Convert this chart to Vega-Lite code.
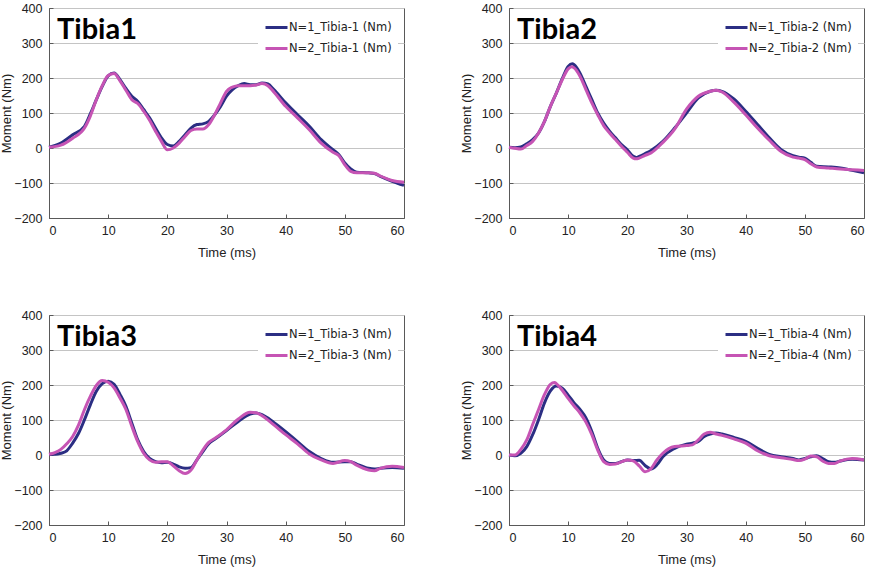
{
  "$schema": "https://vega.github.io/schema/vega-lite/v6.json",
  "padding": {"left": 0, "top": 1, "right": 0, "bottom": 0},
  "background": "white",
  "columns": 2,
  "spacing": {"row": 48, "column": 49},
  "datasets": {
    "p1": [
      {"t":0,"m":2,"s":"N=1_Tibia-1 (Nm)"},{"t":2,"m":14,"s":"N=1_Tibia-1 (Nm)"},{"t":4,"m":38,"s":"N=1_Tibia-1 (Nm)"},{"t":6,"m":62,"s":"N=1_Tibia-1 (Nm)"},{"t":7,"m":98,"s":"N=1_Tibia-1 (Nm)"},{"t":8,"m":138,"s":"N=1_Tibia-1 (Nm)"},{"t":9,"m":176,"s":"N=1_Tibia-1 (Nm)"},{"t":10,"m":206,"s":"N=1_Tibia-1 (Nm)"},{"t":11,"m":214,"s":"N=1_Tibia-1 (Nm)"},{"t":12,"m":195,"s":"N=1_Tibia-1 (Nm)"},{"t":13,"m":170,"s":"N=1_Tibia-1 (Nm)"},{"t":14,"m":148,"s":"N=1_Tibia-1 (Nm)"},{"t":15,"m":133,"s":"N=1_Tibia-1 (Nm)"},{"t":16,"m":110,"s":"N=1_Tibia-1 (Nm)"},{"t":17,"m":86,"s":"N=1_Tibia-1 (Nm)"},{"t":18,"m":57,"s":"N=1_Tibia-1 (Nm)"},{"t":19,"m":29,"s":"N=1_Tibia-1 (Nm)"},{"t":20,"m":10,"s":"N=1_Tibia-1 (Nm)"},{"t":21,"m":6,"s":"N=1_Tibia-1 (Nm)"},{"t":22,"m":19,"s":"N=1_Tibia-1 (Nm)"},{"t":23,"m":38,"s":"N=1_Tibia-1 (Nm)"},{"t":24,"m":57,"s":"N=1_Tibia-1 (Nm)"},{"t":25,"m":67,"s":"N=1_Tibia-1 (Nm)"},{"t":26,"m":69,"s":"N=1_Tibia-1 (Nm)"},{"t":27,"m":76,"s":"N=1_Tibia-1 (Nm)"},{"t":28,"m":95,"s":"N=1_Tibia-1 (Nm)"},{"t":29,"m":119,"s":"N=1_Tibia-1 (Nm)"},{"t":30,"m":148,"s":"N=1_Tibia-1 (Nm)"},{"t":31,"m":167,"s":"N=1_Tibia-1 (Nm)"},{"t":32,"m":178,"s":"N=1_Tibia-1 (Nm)"},{"t":33,"m":184,"s":"N=1_Tibia-1 (Nm)"},{"t":34,"m":181,"s":"N=1_Tibia-1 (Nm)"},{"t":35,"m":181,"s":"N=1_Tibia-1 (Nm)"},{"t":36,"m":186,"s":"N=1_Tibia-1 (Nm)"},{"t":37,"m":183,"s":"N=1_Tibia-1 (Nm)"},{"t":38,"m":167,"s":"N=1_Tibia-1 (Nm)"},{"t":40,"m":129,"s":"N=1_Tibia-1 (Nm)"},{"t":42,"m":95,"s":"N=1_Tibia-1 (Nm)"},{"t":44,"m":62,"s":"N=1_Tibia-1 (Nm)"},{"t":46,"m":24,"s":"N=1_Tibia-1 (Nm)"},{"t":48,"m":-5,"s":"N=1_Tibia-1 (Nm)"},{"t":49,"m":-19,"s":"N=1_Tibia-1 (Nm)"},{"t":50,"m":-43,"s":"N=1_Tibia-1 (Nm)"},{"t":51,"m":-60,"s":"N=1_Tibia-1 (Nm)"},{"t":52,"m":-69,"s":"N=1_Tibia-1 (Nm)"},{"t":54,"m":-71,"s":"N=1_Tibia-1 (Nm)"},{"t":55,"m":-73,"s":"N=1_Tibia-1 (Nm)"},{"t":56,"m":-81,"s":"N=1_Tibia-1 (Nm)"},{"t":58,"m":-95,"s":"N=1_Tibia-1 (Nm)"},{"t":60,"m":-107,"s":"N=1_Tibia-1 (Nm)"},
      {"t":0,"m":2,"s":"N=2_Tibia-1 (Nm)"},{"t":2,"m":8,"s":"N=2_Tibia-1 (Nm)"},{"t":4,"m":28,"s":"N=2_Tibia-1 (Nm)"},{"t":6,"m":57,"s":"N=2_Tibia-1 (Nm)"},{"t":7,"m":92,"s":"N=2_Tibia-1 (Nm)"},{"t":8,"m":138,"s":"N=2_Tibia-1 (Nm)"},{"t":9,"m":178,"s":"N=2_Tibia-1 (Nm)"},{"t":10,"m":207,"s":"N=2_Tibia-1 (Nm)"},{"t":11,"m":213,"s":"N=2_Tibia-1 (Nm)"},{"t":12,"m":192,"s":"N=2_Tibia-1 (Nm)"},{"t":13,"m":165,"s":"N=2_Tibia-1 (Nm)"},{"t":14,"m":138,"s":"N=2_Tibia-1 (Nm)"},{"t":15,"m":127,"s":"N=2_Tibia-1 (Nm)"},{"t":16,"m":105,"s":"N=2_Tibia-1 (Nm)"},{"t":17,"m":79,"s":"N=2_Tibia-1 (Nm)"},{"t":18,"m":48,"s":"N=2_Tibia-1 (Nm)"},{"t":19,"m":19,"s":"N=2_Tibia-1 (Nm)"},{"t":20,"m":-5,"s":"N=2_Tibia-1 (Nm)"},{"t":21,"m":0,"s":"N=2_Tibia-1 (Nm)"},{"t":22,"m":14,"s":"N=2_Tibia-1 (Nm)"},{"t":23,"m":33,"s":"N=2_Tibia-1 (Nm)"},{"t":24,"m":50,"s":"N=2_Tibia-1 (Nm)"},{"t":25,"m":54,"s":"N=2_Tibia-1 (Nm)"},{"t":26,"m":54,"s":"N=2_Tibia-1 (Nm)"},{"t":27,"m":67,"s":"N=2_Tibia-1 (Nm)"},{"t":28,"m":95,"s":"N=2_Tibia-1 (Nm)"},{"t":29,"m":129,"s":"N=2_Tibia-1 (Nm)"},{"t":30,"m":162,"s":"N=2_Tibia-1 (Nm)"},{"t":31,"m":174,"s":"N=2_Tibia-1 (Nm)"},{"t":32,"m":178,"s":"N=2_Tibia-1 (Nm)"},{"t":33,"m":178,"s":"N=2_Tibia-1 (Nm)"},{"t":34,"m":178,"s":"N=2_Tibia-1 (Nm)"},{"t":35,"m":180,"s":"N=2_Tibia-1 (Nm)"},{"t":36,"m":184,"s":"N=2_Tibia-1 (Nm)"},{"t":37,"m":178,"s":"N=2_Tibia-1 (Nm)"},{"t":38,"m":160,"s":"N=2_Tibia-1 (Nm)"},{"t":40,"m":119,"s":"N=2_Tibia-1 (Nm)"},{"t":42,"m":86,"s":"N=2_Tibia-1 (Nm)"},{"t":44,"m":52,"s":"N=2_Tibia-1 (Nm)"},{"t":46,"m":14,"s":"N=2_Tibia-1 (Nm)"},{"t":48,"m":-12,"s":"N=2_Tibia-1 (Nm)"},{"t":49,"m":-22,"s":"N=2_Tibia-1 (Nm)"},{"t":50,"m":-48,"s":"N=2_Tibia-1 (Nm)"},{"t":51,"m":-67,"s":"N=2_Tibia-1 (Nm)"},{"t":52,"m":-71,"s":"N=2_Tibia-1 (Nm)"},{"t":54,"m":-71,"s":"N=2_Tibia-1 (Nm)"},{"t":55,"m":-72,"s":"N=2_Tibia-1 (Nm)"},{"t":56,"m":-80,"s":"N=2_Tibia-1 (Nm)"},{"t":58,"m":-93,"s":"N=2_Tibia-1 (Nm)"},{"t":60,"m":-98,"s":"N=2_Tibia-1 (Nm)"}
    ],
    "p2": [
      {"t":0,"m":2,"s":"N=1_Tibia-2 (Nm)"},{"t":1,"m":1,"s":"N=1_Tibia-2 (Nm)"},{"t":2,"m":3,"s":"N=1_Tibia-2 (Nm)"},{"t":3,"m":12,"s":"N=1_Tibia-2 (Nm)"},{"t":4,"m":24,"s":"N=1_Tibia-2 (Nm)"},{"t":5,"m":43,"s":"N=1_Tibia-2 (Nm)"},{"t":6,"m":76,"s":"N=1_Tibia-2 (Nm)"},{"t":7,"m":119,"s":"N=1_Tibia-2 (Nm)"},{"t":8,"m":157,"s":"N=1_Tibia-2 (Nm)"},{"t":9,"m":198,"s":"N=1_Tibia-2 (Nm)"},{"t":10,"m":233,"s":"N=1_Tibia-2 (Nm)"},{"t":10.7,"m":241,"s":"N=1_Tibia-2 (Nm)"},{"t":11,"m":238,"s":"N=1_Tibia-2 (Nm)"},{"t":12,"m":214,"s":"N=1_Tibia-2 (Nm)"},{"t":13,"m":176,"s":"N=1_Tibia-2 (Nm)"},{"t":14,"m":138,"s":"N=1_Tibia-2 (Nm)"},{"t":15,"m":100,"s":"N=1_Tibia-2 (Nm)"},{"t":16,"m":71,"s":"N=1_Tibia-2 (Nm)"},{"t":17,"m":48,"s":"N=1_Tibia-2 (Nm)"},{"t":18,"m":29,"s":"N=1_Tibia-2 (Nm)"},{"t":19,"m":10,"s":"N=1_Tibia-2 (Nm)"},{"t":20,"m":-5,"s":"N=1_Tibia-2 (Nm)"},{"t":21,"m":-24,"s":"N=1_Tibia-2 (Nm)"},{"t":21.5,"m":-27,"s":"N=1_Tibia-2 (Nm)"},{"t":22,"m":-24,"s":"N=1_Tibia-2 (Nm)"},{"t":23,"m":-16,"s":"N=1_Tibia-2 (Nm)"},{"t":24,"m":-7,"s":"N=1_Tibia-2 (Nm)"},{"t":26,"m":19,"s":"N=1_Tibia-2 (Nm)"},{"t":28,"m":57,"s":"N=1_Tibia-2 (Nm)"},{"t":30,"m":100,"s":"N=1_Tibia-2 (Nm)"},{"t":32,"m":143,"s":"N=1_Tibia-2 (Nm)"},{"t":34,"m":162,"s":"N=1_Tibia-2 (Nm)"},{"t":35,"m":165,"s":"N=1_Tibia-2 (Nm)"},{"t":36,"m":162,"s":"N=1_Tibia-2 (Nm)"},{"t":38,"m":140,"s":"N=1_Tibia-2 (Nm)"},{"t":40,"m":105,"s":"N=1_Tibia-2 (Nm)"},{"t":42,"m":67,"s":"N=1_Tibia-2 (Nm)"},{"t":44,"m":29,"s":"N=1_Tibia-2 (Nm)"},{"t":46,"m":-5,"s":"N=1_Tibia-2 (Nm)"},{"t":48,"m":-22,"s":"N=1_Tibia-2 (Nm)"},{"t":49,"m":-26,"s":"N=1_Tibia-2 (Nm)"},{"t":50,"m":-29,"s":"N=1_Tibia-2 (Nm)"},{"t":51,"m":-41,"s":"N=1_Tibia-2 (Nm)"},{"t":52,"m":-52,"s":"N=1_Tibia-2 (Nm)"},{"t":54,"m":-54,"s":"N=1_Tibia-2 (Nm)"},{"t":56,"m":-57,"s":"N=1_Tibia-2 (Nm)"},{"t":58,"m":-64,"s":"N=1_Tibia-2 (Nm)"},{"t":60,"m":-71,"s":"N=1_Tibia-2 (Nm)"},
      {"t":0,"m":2,"s":"N=2_Tibia-2 (Nm)"},{"t":1,"m":-1,"s":"N=2_Tibia-2 (Nm)"},{"t":2,"m":-3,"s":"N=2_Tibia-2 (Nm)"},{"t":3,"m":7,"s":"N=2_Tibia-2 (Nm)"},{"t":4,"m":19,"s":"N=2_Tibia-2 (Nm)"},{"t":5,"m":43,"s":"N=2_Tibia-2 (Nm)"},{"t":6,"m":76,"s":"N=2_Tibia-2 (Nm)"},{"t":7,"m":119,"s":"N=2_Tibia-2 (Nm)"},{"t":8,"m":157,"s":"N=2_Tibia-2 (Nm)"},{"t":9,"m":195,"s":"N=2_Tibia-2 (Nm)"},{"t":10,"m":226,"s":"N=2_Tibia-2 (Nm)"},{"t":10.6,"m":232,"s":"N=2_Tibia-2 (Nm)"},{"t":11,"m":229,"s":"N=2_Tibia-2 (Nm)"},{"t":12,"m":205,"s":"N=2_Tibia-2 (Nm)"},{"t":13,"m":167,"s":"N=2_Tibia-2 (Nm)"},{"t":14,"m":129,"s":"N=2_Tibia-2 (Nm)"},{"t":15,"m":95,"s":"N=2_Tibia-2 (Nm)"},{"t":16,"m":64,"s":"N=2_Tibia-2 (Nm)"},{"t":17,"m":43,"s":"N=2_Tibia-2 (Nm)"},{"t":18,"m":24,"s":"N=2_Tibia-2 (Nm)"},{"t":19,"m":5,"s":"N=2_Tibia-2 (Nm)"},{"t":20,"m":-12,"s":"N=2_Tibia-2 (Nm)"},{"t":21,"m":-29,"s":"N=2_Tibia-2 (Nm)"},{"t":21.5,"m":-31,"s":"N=2_Tibia-2 (Nm)"},{"t":22,"m":-29,"s":"N=2_Tibia-2 (Nm)"},{"t":23,"m":-21,"s":"N=2_Tibia-2 (Nm)"},{"t":24,"m":-14,"s":"N=2_Tibia-2 (Nm)"},{"t":26,"m":16,"s":"N=2_Tibia-2 (Nm)"},{"t":28,"m":54,"s":"N=2_Tibia-2 (Nm)"},{"t":30,"m":111,"s":"N=2_Tibia-2 (Nm)"},{"t":32,"m":148,"s":"N=2_Tibia-2 (Nm)"},{"t":34,"m":162,"s":"N=2_Tibia-2 (Nm)"},{"t":35,"m":165,"s":"N=2_Tibia-2 (Nm)"},{"t":36,"m":160,"s":"N=2_Tibia-2 (Nm)"},{"t":38,"m":131,"s":"N=2_Tibia-2 (Nm)"},{"t":40,"m":95,"s":"N=2_Tibia-2 (Nm)"},{"t":42,"m":57,"s":"N=2_Tibia-2 (Nm)"},{"t":44,"m":22,"s":"N=2_Tibia-2 (Nm)"},{"t":46,"m":-10,"s":"N=2_Tibia-2 (Nm)"},{"t":48,"m":-26,"s":"N=2_Tibia-2 (Nm)"},{"t":49,"m":-29,"s":"N=2_Tibia-2 (Nm)"},{"t":50,"m":-33,"s":"N=2_Tibia-2 (Nm)"},{"t":51,"m":-45,"s":"N=2_Tibia-2 (Nm)"},{"t":52,"m":-54,"s":"N=2_Tibia-2 (Nm)"},{"t":54,"m":-57,"s":"N=2_Tibia-2 (Nm)"},{"t":56,"m":-60,"s":"N=2_Tibia-2 (Nm)"},{"t":58,"m":-62,"s":"N=2_Tibia-2 (Nm)"},{"t":60,"m":-64,"s":"N=2_Tibia-2 (Nm)"}
    ],
    "p3": [
      {"t":0,"m":2,"s":"N=1_Tibia-3 (Nm)"},{"t":1,"m":2,"s":"N=1_Tibia-3 (Nm)"},{"t":2,"m":5,"s":"N=1_Tibia-3 (Nm)"},{"t":3,"m":12,"s":"N=1_Tibia-3 (Nm)"},{"t":4,"m":34,"s":"N=1_Tibia-3 (Nm)"},{"t":5,"m":62,"s":"N=1_Tibia-3 (Nm)"},{"t":6,"m":101,"s":"N=1_Tibia-3 (Nm)"},{"t":7,"m":144,"s":"N=1_Tibia-3 (Nm)"},{"t":8,"m":182,"s":"N=1_Tibia-3 (Nm)"},{"t":9,"m":204,"s":"N=1_Tibia-3 (Nm)"},{"t":10,"m":211,"s":"N=1_Tibia-3 (Nm)"},{"t":11,"m":202,"s":"N=1_Tibia-3 (Nm)"},{"t":12,"m":173,"s":"N=1_Tibia-3 (Nm)"},{"t":13,"m":139,"s":"N=1_Tibia-3 (Nm)"},{"t":14,"m":91,"s":"N=1_Tibia-3 (Nm)"},{"t":15,"m":43,"s":"N=1_Tibia-3 (Nm)"},{"t":16,"m":10,"s":"N=1_Tibia-3 (Nm)"},{"t":17,"m":-10,"s":"N=1_Tibia-3 (Nm)"},{"t":18,"m":-19,"s":"N=1_Tibia-3 (Nm)"},{"t":19,"m":-22,"s":"N=1_Tibia-3 (Nm)"},{"t":20,"m":-21,"s":"N=1_Tibia-3 (Nm)"},{"t":21,"m":-26,"s":"N=1_Tibia-3 (Nm)"},{"t":22,"m":-34,"s":"N=1_Tibia-3 (Nm)"},{"t":23,"m":-38,"s":"N=1_Tibia-3 (Nm)"},{"t":24,"m":-36,"s":"N=1_Tibia-3 (Nm)"},{"t":25,"m":-14,"s":"N=1_Tibia-3 (Nm)"},{"t":26,"m":10,"s":"N=1_Tibia-3 (Nm)"},{"t":27,"m":32,"s":"N=1_Tibia-3 (Nm)"},{"t":28,"m":45,"s":"N=1_Tibia-3 (Nm)"},{"t":30,"m":70,"s":"N=1_Tibia-3 (Nm)"},{"t":32,"m":96,"s":"N=1_Tibia-3 (Nm)"},{"t":34,"m":117,"s":"N=1_Tibia-3 (Nm)"},{"t":35,"m":120,"s":"N=1_Tibia-3 (Nm)"},{"t":36,"m":115,"s":"N=1_Tibia-3 (Nm)"},{"t":38,"m":93,"s":"N=1_Tibia-3 (Nm)"},{"t":40,"m":67,"s":"N=1_Tibia-3 (Nm)"},{"t":42,"m":38,"s":"N=1_Tibia-3 (Nm)"},{"t":44,"m":10,"s":"N=1_Tibia-3 (Nm)"},{"t":46,"m":-10,"s":"N=1_Tibia-3 (Nm)"},{"t":48,"m":-21,"s":"N=1_Tibia-3 (Nm)"},{"t":50,"m":-19,"s":"N=1_Tibia-3 (Nm)"},{"t":51,"m":-19,"s":"N=1_Tibia-3 (Nm)"},{"t":52,"m":-26,"s":"N=1_Tibia-3 (Nm)"},{"t":54,"m":-38,"s":"N=1_Tibia-3 (Nm)"},{"t":55,"m":-40,"s":"N=1_Tibia-3 (Nm)"},{"t":56,"m":-38,"s":"N=1_Tibia-3 (Nm)"},{"t":58,"m":-36,"s":"N=1_Tibia-3 (Nm)"},{"t":60,"m":-38,"s":"N=1_Tibia-3 (Nm)"},
      {"t":0,"m":2,"s":"N=2_Tibia-3 (Nm)"},{"t":1,"m":7,"s":"N=2_Tibia-3 (Nm)"},{"t":2,"m":16,"s":"N=2_Tibia-3 (Nm)"},{"t":3,"m":32,"s":"N=2_Tibia-3 (Nm)"},{"t":4,"m":53,"s":"N=2_Tibia-3 (Nm)"},{"t":5,"m":86,"s":"N=2_Tibia-3 (Nm)"},{"t":6,"m":130,"s":"N=2_Tibia-3 (Nm)"},{"t":7,"m":168,"s":"N=2_Tibia-3 (Nm)"},{"t":8,"m":199,"s":"N=2_Tibia-3 (Nm)"},{"t":9,"m":213,"s":"N=2_Tibia-3 (Nm)"},{"t":10,"m":208,"s":"N=2_Tibia-3 (Nm)"},{"t":11,"m":192,"s":"N=2_Tibia-3 (Nm)"},{"t":12,"m":163,"s":"N=2_Tibia-3 (Nm)"},{"t":13,"m":130,"s":"N=2_Tibia-3 (Nm)"},{"t":14,"m":82,"s":"N=2_Tibia-3 (Nm)"},{"t":15,"m":38,"s":"N=2_Tibia-3 (Nm)"},{"t":16,"m":5,"s":"N=2_Tibia-3 (Nm)"},{"t":17,"m":-14,"s":"N=2_Tibia-3 (Nm)"},{"t":18,"m":-21,"s":"N=2_Tibia-3 (Nm)"},{"t":19,"m":-19,"s":"N=2_Tibia-3 (Nm)"},{"t":20,"m":-19,"s":"N=2_Tibia-3 (Nm)"},{"t":21,"m":-31,"s":"N=2_Tibia-3 (Nm)"},{"t":22,"m":-45,"s":"N=2_Tibia-3 (Nm)"},{"t":23,"m":-53,"s":"N=2_Tibia-3 (Nm)"},{"t":24,"m":-43,"s":"N=2_Tibia-3 (Nm)"},{"t":25,"m":-14,"s":"N=2_Tibia-3 (Nm)"},{"t":26,"m":14,"s":"N=2_Tibia-3 (Nm)"},{"t":27,"m":36,"s":"N=2_Tibia-3 (Nm)"},{"t":28,"m":47,"s":"N=2_Tibia-3 (Nm)"},{"t":30,"m":72,"s":"N=2_Tibia-3 (Nm)"},{"t":32,"m":103,"s":"N=2_Tibia-3 (Nm)"},{"t":34,"m":122,"s":"N=2_Tibia-3 (Nm)"},{"t":35,"m":121,"s":"N=2_Tibia-3 (Nm)"},{"t":36,"m":112,"s":"N=2_Tibia-3 (Nm)"},{"t":38,"m":86,"s":"N=2_Tibia-3 (Nm)"},{"t":40,"m":58,"s":"N=2_Tibia-3 (Nm)"},{"t":42,"m":32,"s":"N=2_Tibia-3 (Nm)"},{"t":44,"m":3,"s":"N=2_Tibia-3 (Nm)"},{"t":46,"m":-14,"s":"N=2_Tibia-3 (Nm)"},{"t":48,"m":-24,"s":"N=2_Tibia-3 (Nm)"},{"t":50,"m":-16,"s":"N=2_Tibia-3 (Nm)"},{"t":51,"m":-19,"s":"N=2_Tibia-3 (Nm)"},{"t":52,"m":-29,"s":"N=2_Tibia-3 (Nm)"},{"t":54,"m":-43,"s":"N=2_Tibia-3 (Nm)"},{"t":55,"m":-45,"s":"N=2_Tibia-3 (Nm)"},{"t":56,"m":-38,"s":"N=2_Tibia-3 (Nm)"},{"t":58,"m":-32,"s":"N=2_Tibia-3 (Nm)"},{"t":60,"m":-36,"s":"N=2_Tibia-3 (Nm)"}
    ],
    "p4": [
      {"t":0,"m":0,"s":"N=1_Tibia-4 (Nm)"},{"t":1,"m":-2,"s":"N=1_Tibia-4 (Nm)"},{"t":2,"m":5,"s":"N=1_Tibia-4 (Nm)"},{"t":3,"m":24,"s":"N=1_Tibia-4 (Nm)"},{"t":4,"m":58,"s":"N=1_Tibia-4 (Nm)"},{"t":5,"m":101,"s":"N=1_Tibia-4 (Nm)"},{"t":6,"m":149,"s":"N=1_Tibia-4 (Nm)"},{"t":7,"m":183,"s":"N=1_Tibia-4 (Nm)"},{"t":8,"m":197,"s":"N=1_Tibia-4 (Nm)"},{"t":9,"m":191,"s":"N=1_Tibia-4 (Nm)"},{"t":10,"m":171,"s":"N=1_Tibia-4 (Nm)"},{"t":11,"m":149,"s":"N=1_Tibia-4 (Nm)"},{"t":12,"m":130,"s":"N=1_Tibia-4 (Nm)"},{"t":13,"m":106,"s":"N=1_Tibia-4 (Nm)"},{"t":14,"m":67,"s":"N=1_Tibia-4 (Nm)"},{"t":15,"m":19,"s":"N=1_Tibia-4 (Nm)"},{"t":16,"m":-14,"s":"N=1_Tibia-4 (Nm)"},{"t":17,"m":-24,"s":"N=1_Tibia-4 (Nm)"},{"t":18,"m":-24,"s":"N=1_Tibia-4 (Nm)"},{"t":20,"m":-14,"s":"N=1_Tibia-4 (Nm)"},{"t":21,"m":-16,"s":"N=1_Tibia-4 (Nm)"},{"t":22,"m":-15,"s":"N=1_Tibia-4 (Nm)"},{"t":23,"m":-30,"s":"N=1_Tibia-4 (Nm)"},{"t":24,"m":-40,"s":"N=1_Tibia-4 (Nm)"},{"t":25,"m":-28,"s":"N=1_Tibia-4 (Nm)"},{"t":26,"m":-5,"s":"N=1_Tibia-4 (Nm)"},{"t":28,"m":19,"s":"N=1_Tibia-4 (Nm)"},{"t":30,"m":31,"s":"N=1_Tibia-4 (Nm)"},{"t":31,"m":34,"s":"N=1_Tibia-4 (Nm)"},{"t":32,"m":39,"s":"N=1_Tibia-4 (Nm)"},{"t":33,"m":53,"s":"N=1_Tibia-4 (Nm)"},{"t":34,"m":60,"s":"N=1_Tibia-4 (Nm)"},{"t":35,"m":63,"s":"N=1_Tibia-4 (Nm)"},{"t":36,"m":60,"s":"N=1_Tibia-4 (Nm)"},{"t":38,"m":50,"s":"N=1_Tibia-4 (Nm)"},{"t":40,"m":39,"s":"N=1_Tibia-4 (Nm)"},{"t":42,"m":19,"s":"N=1_Tibia-4 (Nm)"},{"t":44,"m":2,"s":"N=1_Tibia-4 (Nm)"},{"t":46,"m":-5,"s":"N=1_Tibia-4 (Nm)"},{"t":48,"m":-10,"s":"N=1_Tibia-4 (Nm)"},{"t":49,"m":-14,"s":"N=1_Tibia-4 (Nm)"},{"t":50,"m":-10,"s":"N=1_Tibia-4 (Nm)"},{"t":51,"m":-5,"s":"N=1_Tibia-4 (Nm)"},{"t":52,"m":-2,"s":"N=1_Tibia-4 (Nm)"},{"t":53,"m":-10,"s":"N=1_Tibia-4 (Nm)"},{"t":54,"m":-19,"s":"N=1_Tibia-4 (Nm)"},{"t":55,"m":-21,"s":"N=1_Tibia-4 (Nm)"},{"t":56,"m":-17,"s":"N=1_Tibia-4 (Nm)"},{"t":58,"m":-12,"s":"N=1_Tibia-4 (Nm)"},{"t":60,"m":-14,"s":"N=1_Tibia-4 (Nm)"},
      {"t":0,"m":0,"s":"N=2_Tibia-4 (Nm)"},{"t":1,"m":0,"s":"N=2_Tibia-4 (Nm)"},{"t":2,"m":16,"s":"N=2_Tibia-4 (Nm)"},{"t":3,"m":43,"s":"N=2_Tibia-4 (Nm)"},{"t":4,"m":87,"s":"N=2_Tibia-4 (Nm)"},{"t":5,"m":130,"s":"N=2_Tibia-4 (Nm)"},{"t":6,"m":173,"s":"N=2_Tibia-4 (Nm)"},{"t":7,"m":202,"s":"N=2_Tibia-4 (Nm)"},{"t":7.7,"m":207,"s":"N=2_Tibia-4 (Nm)"},{"t":8,"m":204,"s":"N=2_Tibia-4 (Nm)"},{"t":9,"m":185,"s":"N=2_Tibia-4 (Nm)"},{"t":10,"m":162,"s":"N=2_Tibia-4 (Nm)"},{"t":11,"m":140,"s":"N=2_Tibia-4 (Nm)"},{"t":12,"m":120,"s":"N=2_Tibia-4 (Nm)"},{"t":13,"m":94,"s":"N=2_Tibia-4 (Nm)"},{"t":14,"m":58,"s":"N=2_Tibia-4 (Nm)"},{"t":15,"m":14,"s":"N=2_Tibia-4 (Nm)"},{"t":16,"m":-19,"s":"N=2_Tibia-4 (Nm)"},{"t":17,"m":-27,"s":"N=2_Tibia-4 (Nm)"},{"t":18,"m":-26,"s":"N=2_Tibia-4 (Nm)"},{"t":20,"m":-14,"s":"N=2_Tibia-4 (Nm)"},{"t":21,"m":-17,"s":"N=2_Tibia-4 (Nm)"},{"t":22,"m":-31,"s":"N=2_Tibia-4 (Nm)"},{"t":23,"m":-48,"s":"N=2_Tibia-4 (Nm)"},{"t":24,"m":-39,"s":"N=2_Tibia-4 (Nm)"},{"t":25,"m":-14,"s":"N=2_Tibia-4 (Nm)"},{"t":26,"m":5,"s":"N=2_Tibia-4 (Nm)"},{"t":28,"m":24,"s":"N=2_Tibia-4 (Nm)"},{"t":30,"m":27,"s":"N=2_Tibia-4 (Nm)"},{"t":31,"m":29,"s":"N=2_Tibia-4 (Nm)"},{"t":32,"m":43,"s":"N=2_Tibia-4 (Nm)"},{"t":33,"m":60,"s":"N=2_Tibia-4 (Nm)"},{"t":34,"m":65,"s":"N=2_Tibia-4 (Nm)"},{"t":35,"m":60,"s":"N=2_Tibia-4 (Nm)"},{"t":36,"m":56,"s":"N=2_Tibia-4 (Nm)"},{"t":38,"m":46,"s":"N=2_Tibia-4 (Nm)"},{"t":40,"m":34,"s":"N=2_Tibia-4 (Nm)"},{"t":42,"m":12,"s":"N=2_Tibia-4 (Nm)"},{"t":44,"m":-2,"s":"N=2_Tibia-4 (Nm)"},{"t":46,"m":-8,"s":"N=2_Tibia-4 (Nm)"},{"t":48,"m":-13,"s":"N=2_Tibia-4 (Nm)"},{"t":49,"m":-16,"s":"N=2_Tibia-4 (Nm)"},{"t":50,"m":-12,"s":"N=2_Tibia-4 (Nm)"},{"t":51,"m":-3,"s":"N=2_Tibia-4 (Nm)"},{"t":52,"m":-5,"s":"N=2_Tibia-4 (Nm)"},{"t":53,"m":-17,"s":"N=2_Tibia-4 (Nm)"},{"t":54,"m":-24,"s":"N=2_Tibia-4 (Nm)"},{"t":55,"m":-24,"s":"N=2_Tibia-4 (Nm)"},{"t":56,"m":-17,"s":"N=2_Tibia-4 (Nm)"},{"t":58,"m":-10,"s":"N=2_Tibia-4 (Nm)"},{"t":60,"m":-14,"s":"N=2_Tibia-4 (Nm)"}
    ]
  },
  "concat": [
    {
      "data": {"name": "p1"}, "width": 355, "height": 210,
      "title": {"text": "Tibia1"},
      "mark": {"type": "line", "interpolate": "monotone", "strokeWidth": 3},
      "encoding": {
        "x": {"field": "t", "type": "quantitative", "title": "Time (ms)", "scale": {"domain": [0, 60], "nice": false}, "axis": {"values": [0, 10, 20, 30, 40, 50, 60]}},
        "y": {"field": "m", "type": "quantitative", "title": "Moment (Nm)", "scale": {"domain": [-200, 400], "nice": false}, "axis": {"values": [-200, -100, 0, 100, 200, 300, 400]}},
        "color": {"field": "s", "type": "nominal", "title": null, "scale": {"domain": ["N=1_Tibia-1 (Nm)", "N=2_Tibia-1 (Nm)"], "range": ["#2B2E83", "#C654B4"]}}
      }
    },
    {
      "data": {"name": "p2"}, "width": 355, "height": 210,
      "title": {"text": "Tibia2"},
      "mark": {"type": "line", "interpolate": "monotone", "strokeWidth": 3},
      "encoding": {
        "x": {"field": "t", "type": "quantitative", "title": "Time (ms)", "scale": {"domain": [0, 60], "nice": false}, "axis": {"values": [0, 10, 20, 30, 40, 50, 60]}},
        "y": {"field": "m", "type": "quantitative", "title": "Moment (Nm)", "scale": {"domain": [-200, 400], "nice": false}, "axis": {"values": [-200, -100, 0, 100, 200, 300, 400]}},
        "color": {"field": "s", "type": "nominal", "title": null, "scale": {"domain": ["N=1_Tibia-2 (Nm)", "N=2_Tibia-2 (Nm)"], "range": ["#2B2E83", "#C654B4"]}}
      }
    },
    {
      "data": {"name": "p3"}, "width": 355, "height": 210,
      "title": {"text": "Tibia3"},
      "mark": {"type": "line", "interpolate": "monotone", "strokeWidth": 3},
      "encoding": {
        "x": {"field": "t", "type": "quantitative", "title": "Time (ms)", "scale": {"domain": [0, 60], "nice": false}, "axis": {"values": [0, 10, 20, 30, 40, 50, 60]}},
        "y": {"field": "m", "type": "quantitative", "title": "Moment (Nm)", "scale": {"domain": [-200, 400], "nice": false}, "axis": {"values": [-200, -100, 0, 100, 200, 300, 400]}},
        "color": {"field": "s", "type": "nominal", "title": null, "scale": {"domain": ["N=1_Tibia-3 (Nm)", "N=2_Tibia-3 (Nm)"], "range": ["#2B2E83", "#C654B4"]}}
      }
    },
    {
      "data": {"name": "p4"}, "width": 355, "height": 210,
      "title": {"text": "Tibia4"},
      "mark": {"type": "line", "interpolate": "monotone", "strokeWidth": 3},
      "encoding": {
        "x": {"field": "t", "type": "quantitative", "title": "Time (ms)", "scale": {"domain": [0, 60], "nice": false}, "axis": {"values": [0, 10, 20, 30, 40, 50, 60]}},
        "y": {"field": "m", "type": "quantitative", "title": "Moment (Nm)", "scale": {"domain": [-200, 400], "nice": false}, "axis": {"values": [-200, -100, 0, 100, 200, 300, 400]}},
        "color": {"field": "s", "type": "nominal", "title": null, "scale": {"domain": ["N=1_Tibia-4 (Nm)", "N=2_Tibia-4 (Nm)"], "range": ["#2B2E83", "#C654B4"]}}
      }
    }
  ],
  "resolve": {"scale": {"color": "independent", "x": "independent", "y": "independent"}, "legend": {"color": "independent"}},
  "config": {
    "font": "Liberation Sans",
    "view": {"stroke": "#595959", "strokeWidth": 1},
    "axis": {
      "labelFont": "Liberation Sans", "labelFontSize": 12.5, "labelColor": "#222222",
      "titleFont": "Liberation Sans", "titleFontSize": 13, "titleFontWeight": "normal", "titleColor": "#222222",
      "gridColor": "#c4c4c4", "gridWidth": 1, "gridOpacity": 1,
      "domainColor": "#595959", "tickColor": "#595959", "tickSize": -4
    },
    "axisX": {"grid": false, "titlePadding": 10, "labelPadding": 10},
    "axisY": {"titlePadding": 0, "labelPadding": 11},
    "legend": {
      "orient": "none", "legendX": 209, "legendY": 1,
      "fillColor": "white", "padding": 6,
      "symbolType": "stroke", "symbolSize": 484, "symbolStrokeWidth": 3,
      "labelFont": "DejaVu Sans", "labelFontSize": 11.5, "labelColor": "#222222", "labelOffset": 0,
      "rowPadding": 2
    },
    "title": {
      "font": "Lato", "fontSize": 29, "fontWeight": "bold", "color": "#000000",
      "anchor": "start", "frame": "group", "offset": -43, "dx": 8
    }
  }
}
